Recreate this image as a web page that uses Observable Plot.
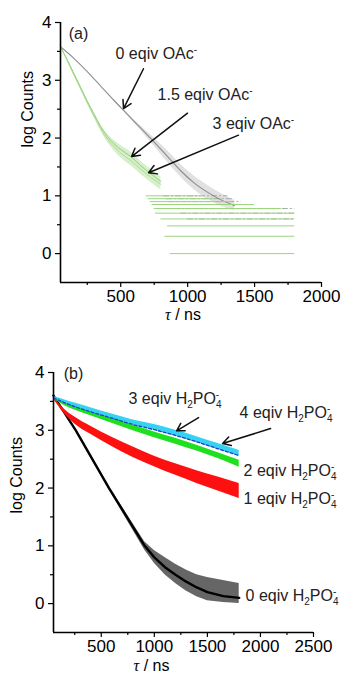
<!DOCTYPE html>
<html>
<head>
<meta charset="utf-8">
<script src="https://cdn.jsdelivr.net/npm/d3@7"></script>
<script src="https://cdn.jsdelivr.net/npm/@observablehq/plot@0.6"></script>
<style>
  html, body { margin: 0; padding: 0; background: #fff; }
  #wrap { width: 342px; height: 684px; overflow: hidden; }
  #wrap svg { display: block; }
</style>
</head>
<body>
<div id="wrap"></div>
<script>
// ---------- Panel (a) data ----------
const a0Time = [50, 150, 250, 350, 450, 550, 650, 750, 850, 950, 1050, 1150, 1250, 1350];
const a0Log  = [3.58, 3.38, 3.15, 2.90, 2.65, 2.41, 2.17, 1.93, 1.68, 1.43, 1.22, 1.06, 0.93, 0.83];
const a0Low  = [3.58, 3.38, 3.15, 2.90, 2.64, 2.39, 2.13, 1.86, 1.58, 1.32, 1.10, 0.94, 0.82, 0.74];
const a0High = [3.58, 3.38, 3.15, 2.90, 2.66, 2.43, 2.21, 2.00, 1.78, 1.54, 1.34, 1.18, 1.04, 0.92];

const a15Time = [50, 100, 150, 200, 250, 300, 350, 400, 450, 500, 575, 650, 725, 800];
const a15Log  = [3.58, 3.36, 3.12, 2.88, 2.64, 2.42, 2.20, 2.03, 1.90, 1.80, 1.68, 1.52, 1.38, 1.25];
const a3Log   = [3.58, 3.34, 3.09, 2.85, 2.61, 2.38, 2.16, 1.98, 1.85, 1.74, 1.61, 1.46, 1.32, 1.20];
const aGreenLow  = [3.58, 3.34, 3.09, 2.85, 2.60, 2.36, 2.13, 1.93, 1.78, 1.66, 1.52, 1.37, 1.23, 1.10];
const aGreenHigh = [3.58, 3.36, 3.12, 2.88, 2.65, 2.44, 2.23, 2.07, 1.96, 1.87, 1.76, 1.60, 1.46, 1.33];

const aGreenLevel = [0, 0.30, 0.48, 0.60, 0.70, 0.78, 0.85, 0.90, 0.95, 1.00];
const aGreenFrom  = [870, 830, 850, 800, 760, 750, 735, 720, 705, 690];
const aGreenTo    = [1800, 1800, 1800, 1800, 1800, 1700, 1500, 1350, 1200, 1100];

const aGreyLevel = [0.60, 0.70, 0.78, 0.85, 0.90, 0.95, 1.00];
const aGreyFrom  = [1000, 950, 900, 880, 860, 840, 820];
const aGreyTo    = [1800, 1800, 1800, 1500, 1400, 1350, 1300];

const aTagText = ["(a)"];
const aTagTime = [185];
const aTagLog  = [3.81];
const aLabelText = ["0 eqiv OAc^-", "1.5 eqiv OAc^-", "3 eqiv OAc^-"];
const aLabelTime = [461, 775, 1186];
const aLabelLog  = [3.46, 2.74, 2.25];

const aArrowFromTime = [670, 999, 1380];
const aArrowFromLog  = [3.20, 2.43, 2.05];
const aArrowToTime   = [521, 581, 708];
const aArrowToLog    = [2.51, 1.68, 1.40];

// ---------- Panel (b) data ----------
const bTime = [50, 150, 250, 400, 600, 800, 1000, 1200, 1400, 1600, 1800];
const b4Low   = [3.55, 3.47, 3.41, 3.31, 3.20, 3.10, 3.00, 2.90, 2.79, 2.67, 2.55];
const b4High  = [3.59, 3.53, 3.47, 3.39, 3.28, 3.18, 3.10, 3.00, 2.89, 2.77, 2.65];
const b3Log   = [3.56, 3.48, 3.41, 3.32, 3.21, 3.10, 3.01, 2.91, 2.80, 2.68, 2.56];
const b2Low   = [3.54, 3.43, 3.35, 3.25, 3.12, 2.99, 2.87, 2.76, 2.64, 2.51, 2.36];
const b2High  = [3.58, 3.49, 3.43, 3.35, 3.22, 3.09, 2.97, 2.86, 2.74, 2.61, 2.48];
const b1Low   = [3.54, 3.29, 3.11, 2.93, 2.72, 2.53, 2.37, 2.22, 2.08, 1.95, 1.82];
const b1High  = [3.58, 3.37, 3.23, 3.07, 2.88, 2.71, 2.55, 2.42, 2.30, 2.19, 2.08];

const b0Time = [50, 260, 573, 909, 1000, 1100, 1200, 1300, 1400, 1500, 1650, 1800];
const b0Log  = [3.60, 3.00, 2.00, 1.00, 0.80, 0.63, 0.50, 0.38, 0.28, 0.20, 0.13, 0.10];
const b0Low  = [3.58, 2.98, 1.97, 0.93, 0.70, 0.50, 0.35, 0.22, 0.12, 0.05, 0.02, 0.00];
const b0High = [3.62, 3.02, 2.03, 1.07, 0.92, 0.80, 0.68, 0.58, 0.50, 0.45, 0.40, 0.35];

const bTagText = ["(b)"];
const bTagTime = [238];
const bTagLog  = [3.98];
const bLabelText = ["3 eqiv H_2PO_4^-", "4 eqiv H_2PO_4^-", "2 eqiv H_2PO_4^-", "1 eqiv H_2PO_4^-", "0 eqiv H_2PO_4^-"];
const bLabelTime = [757, 1803, 1841, 1841, 1860];
const bLabelLog  = [3.55, 3.30, 2.30, 1.81, 0.13];

const bArrowFromTime = [1417, 2095];
const bArrowFromLog  = [3.22, 3.03];
const bArrowToTime   = [1210, 1643];
const bArrowToLog    = [2.99, 2.77];

// ---------- Axis ticks ----------
const aXMajor = [500, 1000, 1500, 2000];
const aXMinor = [250, 750, 1250, 1750];
const bXMajor = [500, 1000, 1500, 2000, 2500];
const bXMinor = [250, 750, 1250, 1750, 2250];
const yMajor = [0, 1, 2, 3, 4];
const yMinor = [0.5, 1.5, 2.5, 3.5];

const FONT = "'Liberation Sans', Arial, Helvetica, sans-serif";
const idx = (a) => a.map((_, i) => i);
const plain = d => String(d);

function commonAxes(xMajor, xMinor, x0) {
  return [
    Plot.axisX({ticks: xMajor, tickSize: 5, tickPadding: 2, fontSize: 17, tickFormat: plain, label: null, strokeWidth: 1.2}),
    Plot.axisX({ticks: xMinor, tickSize: 3, tickFormat: () => "", label: null, strokeWidth: 1.2}),
    Plot.axisY({ticks: yMajor, tickSize: 5, tickPadding: 4, fontSize: 17, tickFormat: plain, label: null, strokeWidth: 1.2}),
    Plot.axisY({ticks: yMinor, tickSize: 3, tickFormat: () => "", label: null, strokeWidth: 1.2}),
    Plot.ruleX([x0], {y1: -0.5, y2: 4, strokeWidth: 1.6}),
    Plot.ruleY([-0.5], {strokeWidth: 1.6})
  ];
}

// ---------- Panel (a) ----------
const chartA = Plot.plot({
  width: 342, height: 330,
  marginLeft: 60, marginRight: 21, marginTop: 22, marginBottom: 48,
  x: {domain: [50, 2000]},
  y: {domain: [-0.5, 4]},
  style: {fontFamily: FONT, fontSize: "16px", color: "#000", background: "#fff"},
  marks: [
    Plot.areaY(idx(a0Time), {x: i => a0Time[i], y1: i => a0Low[i], y2: i => a0High[i], fill: "#9a9a9a", fillOpacity: 0.3, curve: "monotone-x"}),
    Plot.ruleY(idx(aGreyLevel), {y: i => aGreyLevel[i], x1: i => aGreyFrom[i], x2: i => aGreyTo[i], stroke: "#a0a0a0", strokeWidth: 0.9, strokeDasharray: "6,2,2,2"}),
    Plot.line(idx(a0Time), {x: i => a0Time[i], y: i => a0Log[i], stroke: "#7d7d7d", strokeWidth: 1.1, strokeOpacity: 0.85, curve: "monotone-x"}),
    Plot.areaY(idx(a15Time), {x: i => a15Time[i], y1: i => aGreenLow[i], y2: i => aGreenHigh[i], fill: "#a8dc8e", fillOpacity: 0.45, curve: "monotone-x"}),
    Plot.ruleY(idx(aGreenLevel), {y: i => aGreenLevel[i], x1: i => aGreenFrom[i], x2: i => aGreenTo[i], stroke: "#9bd57f", strokeWidth: 1}),
    Plot.line(idx(a15Time), {x: i => a15Time[i], y: i => a15Log[i], stroke: "#8fcf72", strokeWidth: 1, curve: "monotone-x"}),
    Plot.line(idx(a15Time), {x: i => a15Time[i], y: i => a3Log[i], stroke: "#a5d98c", strokeWidth: 0.9, curve: "monotone-x"}),
    ...commonAxes(aXMajor, aXMinor, 50),
    Plot.arrow(idx(aArrowFromTime), {x1: i => aArrowFromTime[i], y1: i => aArrowFromLog[i], x2: i => aArrowToTime[i], y2: i => aArrowToLog[i], stroke: "#111", strokeWidth: 1.5, headLength: 9}),
    Plot.text(idx(aTagText), {x: i => aTagTime[i], y: i => aTagLog[i], text: i => aTagText[i], textAnchor: "middle", fontSize: 16, fill: "#222"}),
    Plot.text(idx(aLabelText), {x: i => aLabelTime[i], y: i => aLabelLog[i], text: i => aLabelText[i], textAnchor: "start", fontSize: 16, fill: "#222"}),
    Plot.text(["log Counts"], {frameAnchor: "left", rotate: -90, dx: -33, dy: -5, fontSize: 16}),
    Plot.text(["*τ* / ns"], {frameAnchor: "bottom", dx: -8, dy: 37, fontSize: 16})
  ]
});

// ---------- Panel (b) ----------
const chartB = Plot.plot({
  width: 342, height: 354,
  marginLeft: 53, marginRight: 29, marginTop: 42, marginBottom: 52,
  x: {domain: [50, 2500]},
  y: {domain: [-0.5, 4]},
  style: {fontFamily: FONT, fontSize: "16px", color: "#000", background: "#fff", overflow: "visible"},
  marks: [
    Plot.areaY(idx(b0Time), {x: i => b0Time[i], y1: i => b0Low[i], y2: i => b0High[i], fill: "#000", fillOpacity: 0.6, curve: "linear"}),
    Plot.line(idx(b0Time), {x: i => b0Time[i], y: i => b0Log[i], stroke: "#000", strokeWidth: 2.4, curve: "linear"}),
    Plot.areaY(idx(bTime), {x: i => bTime[i], y1: i => b1Low[i], y2: i => b1High[i], fill: "#ff1010", curve: "monotone-x"}),
    Plot.areaY(idx(bTime), {x: i => bTime[i], y1: i => b2Low[i], y2: i => b2High[i], fill: "#1fe01f", curve: "monotone-x"}),
    Plot.areaY(idx(bTime), {x: i => bTime[i], y1: i => b4Low[i], y2: i => b4High[i], fill: "#35d2f2", curve: "monotone-x"}),
    Plot.line(idx(bTime), {x: i => bTime[i], y: i => b3Log[i], stroke: "#1a3fc8", strokeWidth: 1.3, strokeDasharray: "3,2", curve: "monotone-x"}),
    ...commonAxes(bXMajor, bXMinor, 50),
    Plot.arrow(idx(bArrowFromTime), {x1: i => bArrowFromTime[i], y1: i => bArrowFromLog[i], x2: i => bArrowToTime[i], y2: i => bArrowToLog[i], stroke: "#111", strokeWidth: 1.5, headLength: 9}),
    Plot.text(idx(bTagText), {x: i => bTagTime[i], y: i => bTagLog[i], text: i => bTagText[i], textAnchor: "middle", fontSize: 16, fill: "#222"}),
    Plot.text(idx(bLabelText), {x: i => bLabelTime[i], y: i => bLabelLog[i], text: i => bLabelText[i], textAnchor: "start", fontSize: 16, fill: "#222"}),
    Plot.text(["log Counts"], {frameAnchor: "left", rotate: -90, dx: -37, dy: 11, fontSize: 16}),
    Plot.text(["*τ* / ns"], {frameAnchor: "bottom", dx: -32, dy: 38, fontSize: 16})
  ]
});

// Rich text: "_x" subscript, "^x" superscript (stacked after a subscript), "*x*" italic
function enrich(svg) {
  const NS = "http://www.w3.org/2000/svg";
  svg.querySelectorAll("text").forEach(t => {
    const s = t.textContent;
    if (!/[_^*]/.test(s) || t.children.length) return;
    t.textContent = "";
    let i = 0, cur = 0, lastSub = null;
    const add = (txt, off, attrs) => {
      const ts = document.createElementNS(NS, "tspan");
      ts.textContent = txt;
      if (off !== cur) ts.setAttribute("dy", off - cur);
      cur = off;
      for (const k in attrs) ts.setAttribute(k, attrs[k]);
      t.appendChild(ts);
      return ts;
    };
    while (i < s.length) {
      const c = s[i];
      if (c === "_") {
        lastSub = add(s[i + 1], 4, {"font-size": 10});
        i += 2;
        continue;
      } else if (c === "^") {
        const attrs = {"font-size": 10};
        if (lastSub && s[i - 2] === "_") attrs.dx = -5.6;
        add(s[i + 1], -6, attrs);
        i += 2;
      } else if (c === "*") {
        const j = s.indexOf("*", i + 1);
        add(s.slice(i + 1, j), 0, {"font-style": "italic", "font-family": "'Liberation Serif', serif"});
        i = j + 1;
      } else {
        let j = i;
        while (j < s.length && !"_^*".includes(s[j])) j++;
        add(s.slice(i, j), 0, {});
        i = j;
      }
      lastSub = null;
    }
  });
}
enrich(chartA);
enrich(chartB);
const wrap = document.getElementById("wrap");
wrap.appendChild(chartA);
wrap.appendChild(chartB);
</script>
</body>
</html>
